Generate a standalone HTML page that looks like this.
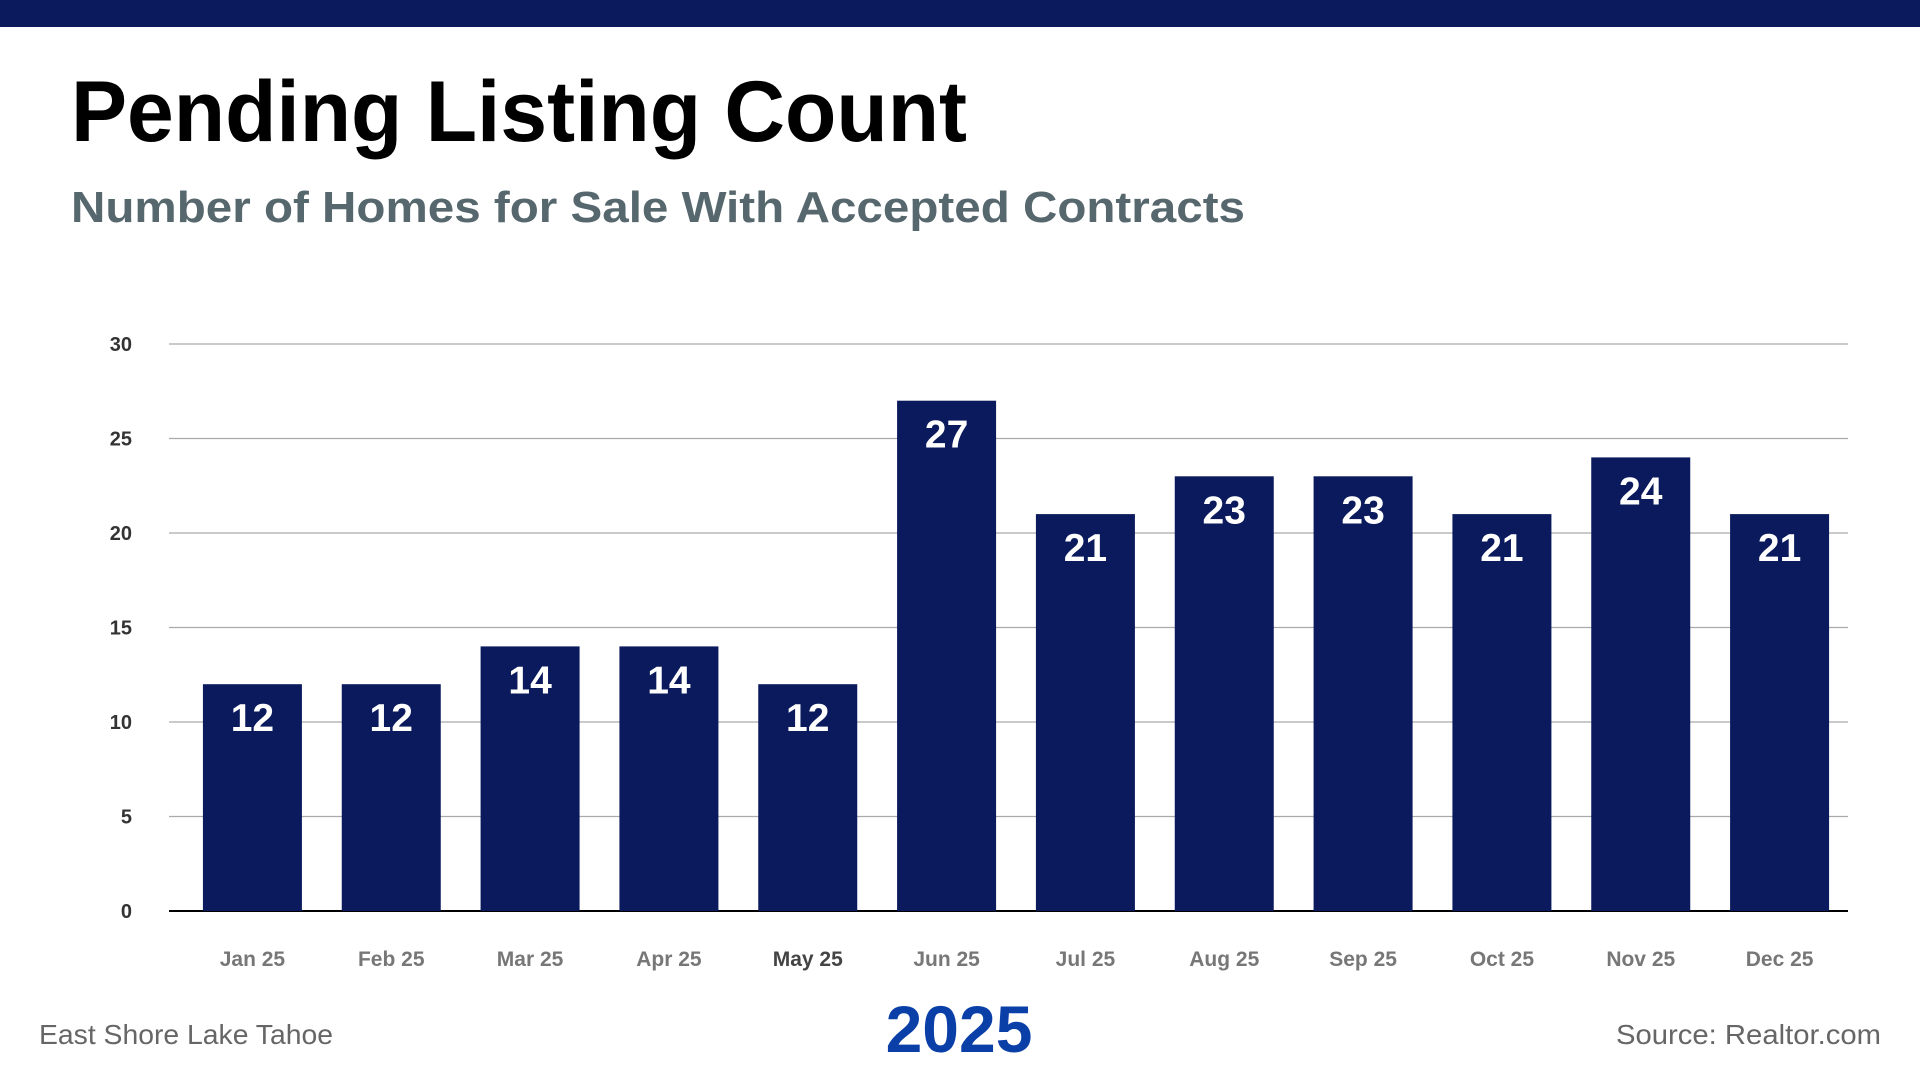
<!DOCTYPE html>
<html><head><meta charset="utf-8"><style>
html,body{margin:0;padding:0;background:#fff;width:1920px;height:1080px;overflow:hidden}
svg{display:block;font-family:"Liberation Sans",sans-serif}
</style></head><body>
<svg id="chart" width="1920" height="1080" viewBox="0 0 1920 1080" xmlns="http://www.w3.org/2000/svg">
<rect x="0" y="0" width="1920" height="27" fill="#0a1a5c"/>
<text x="71" y="141" font-size="86" font-weight="bold" fill="#000" textLength="896" lengthAdjust="spacingAndGlyphs">Pending Listing Count</text>
<text x="71" y="222" font-size="44" font-weight="bold" fill="#56676e" textLength="1174" lengthAdjust="spacingAndGlyphs">Number of Homes for Sale With Accepted Contracts</text>
<g id="grid"></g>
<g id="bars"></g>
<g id="yticks"></g>
<g id="xticks"></g>
<text x="39" y="1044" font-size="28" fill="#666" textLength="294" lengthAdjust="spacingAndGlyphs">East Shore Lake Tahoe</text>
<text x="959" y="1052" font-size="66" font-weight="bold" fill="#0b3fa8" text-anchor="middle">2025</text>
<text x="1616" y="1044" font-size="28" fill="#666" textLength="265" lengthAdjust="spacingAndGlyphs">Source: Realtor.com</text>
</svg>
<script>
const categories = ["Jan 25","Feb 25","Mar 25","Apr 25","May 25","Jun 25","Jul 25","Aug 25","Sep 25","Oct 25","Nov 25","Dec 25"];
const values = [12,12,14,14,12,27,21,23,23,21,24,21];
const yTicks = [0,5,10,15,20,25,30];
const NS="http://www.w3.org/2000/svg";
const plotL=169, plotR=1848, y0=911, y30=344;
const bandL=183, bandR=1849;
const yMax=30;
function yScale(v){return y0-(v/yMax)*(y0-y30);}
const step=(bandR-bandL)/categories.length;
function xCenter(i){return bandL+step*(i+0.5);}
const barW=99;
function mk(tag,attrs,parent){const e=document.createElementNS(NS,tag);for(const k in attrs)e.setAttribute(k,attrs[k]);parent.appendChild(e);return e;}
const grid=document.getElementById('grid'),bars=document.getElementById('bars'),yt=document.getElementById('yticks'),xt=document.getElementById('xticks');
yTicks.forEach(t=>{
  const y=yScale(t);
  const l=mk('line',{x1:plotL,x2:plotR,y1:y,y2:y,stroke:t===0?'#000':'#aaa','stroke-width':t===0?2:1.3},grid);
  
  
  const tx=mk('text',{x:132,y:y+7,'font-size':20,'font-weight':'bold',fill:'#333','text-anchor':'end'},yt);
  tx.textContent=t;
  
  
});
values.forEach((v,i)=>{
  const cx=xCenter(i), top=yScale(v);
  const r=mk('rect',{x:cx-barW/2,y:top,width:barW,height:y0-top,fill:'#0a1a5c'},bars);
  
  
  const vt=mk('text',{x:cx,y:top+47,'font-size':39,'font-weight':'bold',fill:'#fff','text-anchor':'middle'},bars);
  vt.textContent=v;
  
  
  const xl=mk('text',{x:cx,y:966,'font-size':21,'font-weight':'bold',fill:i===4?'#444':'#777','text-anchor':'middle'},xt);
  xl.textContent=categories[i];
  
  
});
</script>
</body></html>
